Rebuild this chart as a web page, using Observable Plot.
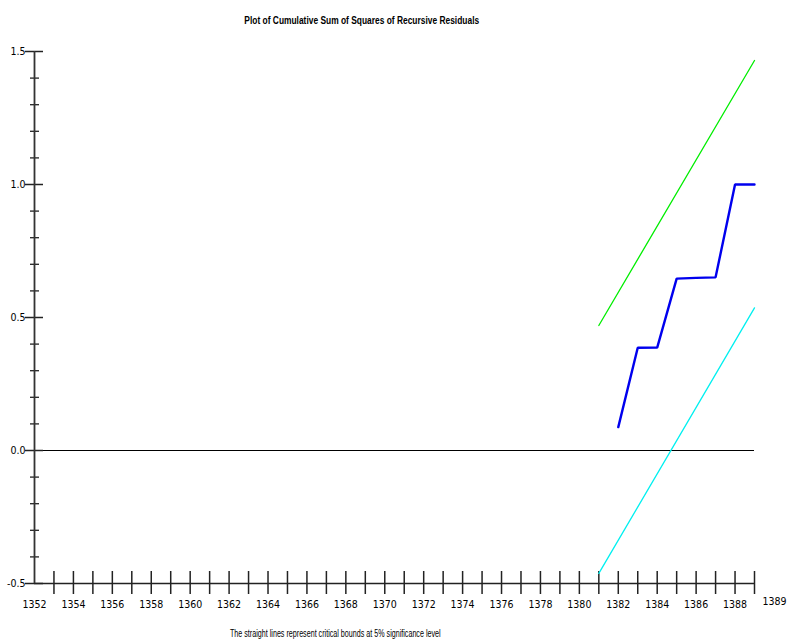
<!DOCTYPE html>
<html>
<head>
<meta charset="utf-8">
<script src="https://cdn.jsdelivr.net/npm/d3@7"></script>
<script src="https://cdn.jsdelivr.net/npm/@observablehq/plot@0.6"></script>
<style>
  html, body { margin: 0; padding: 0; background: #fff; }
  body { width: 787px; height: 642px; overflow: hidden; font-family: "Liberation Sans", Arial, sans-serif; }
  #title { height: 40px; width: 724px; text-align: center; line-height: 38px; color: #000; }
  #title span { display: inline-block; font-size: 10.5px; font-weight: bold; transform: scaleX(0.8); transform-origin: center; }
  #caption { height: 22px; width: 670px; text-align: center; line-height: 24px; color: #000; }
  #caption span { display: inline-block; font-size: 10px; transform: scaleX(0.715); transform-origin: center; }
  svg { display: block; }
</style>
</head>
<body>
<div id="title"><span>Plot of Cumulative Sum of Squares of Recursive Residuals</span></div>
<div id="chart"></div>
<div id="caption"><span>The straight lines represent critical bounds at 5% significance level</span></div>
<script>
// Data
const years = [1382, 1383, 1384, 1385, 1386, 1387, 1388, 1389];
const cusumsq = [0.088, 0.386, 0.387, 0.646, 0.649, 0.651, 1.0, 1.0];
const boundYears = [1381, 1389];
const upperBound = [0.470, 1.466];
const lowerBound = [-0.462, 0.536];
const xTickYears = d3.range(1353, 1390);
const xLabelYears = d3.range(1352, 1389, 2);
const lastYearLabel = 1389;
const yMajorTicks = [-0.5, 0.0, 0.5, 1.0, 1.5];
const yMinorTicks = [-0.4, -0.3, -0.2, -0.1, 0.1, 0.2, 0.3, 0.4, 0.6, 0.7, 0.8, 0.9, 1.1, 1.2, 1.3, 1.4];

const blue = years.map((x, i) => ({x, y: cusumsq[i]}));
const upper = boundYears.map((x, i) => ({x, y: upperBound[i]}));
const lower = boundYears.map((x, i) => ({x, y: lowerBound[i]}));

const xMin = 1352, xMax = 1389, yMin = -0.5, yMax = 1.5;
const font = '"DejaVu Sans Condensed", "Liberation Sans Narrow", sans-serif';

const chart = Plot.plot({
  width: 787,
  height: 580,
  marginLeft: 34,
  marginRight: 33,
  marginTop: 11,
  marginBottom: 37,
  style: {fontFamily: font, fontSize: "10px", background: "#fff", overflow: "visible"},
  x: {domain: [xMin, xMax], axis: null},
  y: {domain: [yMin, yMax], axis: null},
  marks: [
    // zero line
    Plot.ruleY([0], {x1: xMin, x2: xMax, stroke: "#000", strokeWidth: 1}),
    // x ticks
    Plot.ruleX(xTickYears, {x: d => d, y1: yMin, y2: yMin, insetTop: -12, insetBottom: -11, stroke: "#222", strokeWidth: 1.5}),
    // y major ticks
    Plot.ruleY(yMajorTicks, {y: d => d, x1: xMin, x2: xMin, insetLeft: -9, insetRight: -9, stroke: "#222", strokeWidth: 1.5}),
    // y minor ticks
    Plot.ruleY(yMinorTicks, {y: d => d, x1: xMin, x2: xMin, insetLeft: -4, insetRight: -5, stroke: "#222", strokeWidth: 1.3}),
    // axis lines
    Plot.ruleY([yMin], {x1: xMin, x2: xMax, stroke: "#222", strokeWidth: 1.6}),
    Plot.ruleX([xMin], {y1: yMin, y2: yMax, stroke: "#333", strokeWidth: 1.8}),
    // bounds
    Plot.line(upper, {x: "x", y: "y", stroke: "#00ee00", strokeWidth: 1.3}),
    Plot.line(lower, {x: "x", y: "y", stroke: "#00f0f0", strokeWidth: 1.3}),
    // cusum of squares
    Plot.line(blue, {x: "x", y: "y", stroke: "#0000ee", strokeWidth: 2.4, strokeLinejoin: "miter"}),
    // labels
    Plot.text(xLabelYears, {x: d => d, y: yMin, text: d => String(d), dy: 21, fill: "#000", fontSize: 10.5}),
    Plot.text([lastYearLabel], {x: d => d, y: yMin, text: d => String(d), dx: 32, dy: 18, textAnchor: "end", fill: "#000", fontSize: 10.5}),
    Plot.text(yMajorTicks, {x: xMin, y: d => d, text: d => d.toFixed(1), dx: -9, textAnchor: "end", fill: "#000", fontSize: 10.5})
  ]
});
document.getElementById("chart").appendChild(chart);
</script>
</body>
</html>
